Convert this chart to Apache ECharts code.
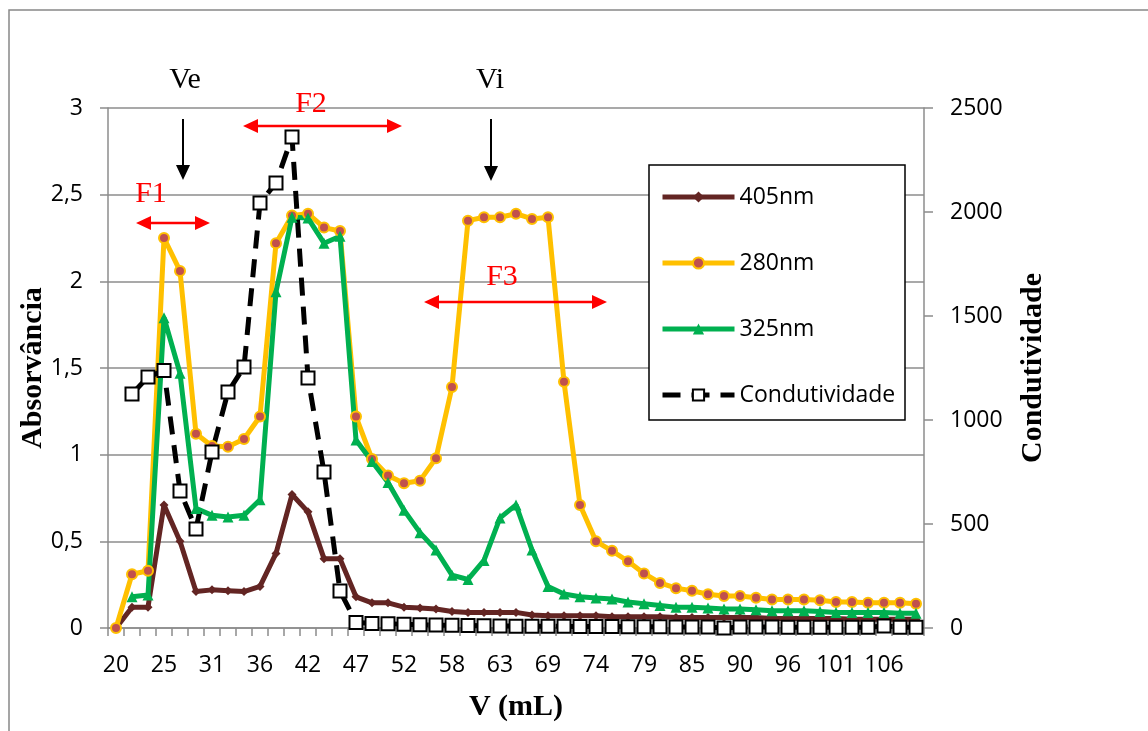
<!DOCTYPE html>
<html>
<head>
<meta charset="utf-8">
<script src="https://cdn.jsdelivr.net/npm/echarts@6/dist/echarts.min.js"></script>
<style>
  html, body { margin: 0; padding: 0; background: #fff; }
  #chart { width: 1148px; height: 731px; }
</style>
</head>
<body>
<div id="chart"></div>
<script>
// V (mL) – one entry per reading, every third one is labelled
const volumes = [20, 22, 24, 25, 27, 29, 31, 33, 34, 36, 38, 40, 42, 43, 45, 47, 49, 50,
  52, 54, 56, 58, 59, 61, 63, 65, 67, 69, 70, 72, 74, 76, 78, 79, 81, 83, 85, 87, 88,
  90, 92, 94, 96, 97, 99, 101, 103, 104, 106, 108, 110]

const abs405 = [0, 0.12, 0.12, 0.71, 0.5, 0.21, 0.22, 0.215, 0.21, 0.24, 0.43, 0.77, 0.67,
  0.4, 0.4, 0.18, 0.145, 0.145, 0.12, 0.115, 0.11, 0.095, 0.09, 0.09, 0.09, 0.09, 0.075,
  0.07, 0.07, 0.07, 0.07, 0.065, 0.065, 0.065, 0.065, 0.06, 0.06, 0.06, 0.06, 0.06, 0.06,
  0.055, 0.055, 0.055, 0.055, 0.055, 0.05, 0.05, 0.05, 0.05, 0.05]

const abs280 = [0, 0.31, 0.33, 2.25, 2.06, 1.12, 1.05, 1.045, 1.09, 1.22, 2.22, 2.38, 2.39,
  2.31, 2.29, 1.22, 0.975, 0.88, 0.835, 0.85, 0.98, 1.39, 2.35, 2.37, 2.37, 2.39, 2.36,
  2.37, 1.42, 0.71, 0.5, 0.445, 0.385, 0.315, 0.26, 0.23, 0.215, 0.195, 0.185, 0.185,
  0.175, 0.165, 0.165, 0.165, 0.16, 0.15, 0.15, 0.145, 0.145, 0.145, 0.14]

const abs325 = [null, 0.18, 0.19, 1.79, 1.47, 0.69, 0.65, 0.64, 0.65, 0.74, 1.94, 2.37,
  2.365, 2.22, 2.26, 1.085, 0.96, 0.84, 0.68, 0.55, 0.45, 0.305, 0.28, 0.39, 0.635, 0.71,
  0.45, 0.24, 0.196, 0.18, 0.173, 0.167, 0.15, 0.14, 0.13, 0.12, 0.12, 0.115, 0.11, 0.11,
  0.105, 0.1, 0.1, 0.1, 0.095, 0.09, 0.09, 0.09, 0.09, 0.085, 0.085]

const condutividade = [null, 1125, 1207, 1238, 659, 476, 846, 1135, 1255, 2043, 2140, 2361,
  1202, 750, 178, 27, 22, 20, 18, 16, 14, 13, 12, 11, 10, 9, 9, 8, 8, 7, 7, 7, 6, 6, 6,
  5, 5, 5, 0, 5, 5, 5, 4, 4, 4, 4, 4, 4, 10, 4, 4]

const labelFont = 'Open Sans, sans-serif'
const serif = 'Liberation Serif, Times New Roman, serif'
const gray = '#8c8c8c'

const arrowHead = (x, y, dir, color) => {
  // dir: 'down' | 'left' | 'right'
  const L = 15, W = 7
  let pts
  if (dir === 'down') pts = [[x - W, y - L], [x + W, y - L], [x, y]]
  else if (dir === 'left') pts = [[x, y], [x + L, y - W], [x + L, y + W]]
  else pts = [[x, y], [x - L, y - W], [x - L, y + W]]
  return { type: 'polygon', shape: { points: pts }, style: { fill: color }, z: 10 }
}

const downArrow = (x, y1, y2) => [
  { type: 'line', shape: { x1: x, y1: y1, x2: x, y2: y2 - 10 }, style: { stroke: '#000', lineWidth: 2 }, z: 10 },
  arrowHead(x, y2, 'down', '#000'),
]

const doubleArrow = (x1, x2, y) => [
  { type: 'line', shape: { x1: x1 + 8, y1: y, x2: x2 - 8, y2: y }, style: { stroke: '#ff0000', lineWidth: 2.5 }, z: 10 },
  arrowHead(x1, y, 'left', '#ff0000'),
  arrowHead(x2, y, 'right', '#ff0000'),
]

const txt = (x, y, text, color) => ({
  type: 'text', x: x, y: y, z: 10,
  style: { text: text, fill: color, font: '30px ' + serif, align: 'center', verticalAlign: 'middle' },
})

const chart = echarts.init(document.getElementById('chart'), null, { renderer: 'canvas' })

chart.setOption({
  animation: false,
  backgroundColor: '#fff',
  grid: { left: 108, right: 224, top: 108, bottom: 103 },
  legend: {
    orient: 'vertical',
    left: 660,
    top: 185,
    padding: 0,
    itemGap: 42,
    itemWidth: 72,
    itemHeight: 14,
    textStyle: { fontFamily: labelFont, fontSize: 23, color: '#000', lineHeight: 24 },
    lineStyle: { width: 5 },
    data: ['405nm', '280nm', '325nm', 'Condutividade'],
    z: 5,
  },
  xAxis: {
    type: 'category',
    data: volumes,
    boundaryGap: true,
    name: 'V (mL)',
    nameLocation: 'middle',
    nameGap: 64,
    nameMoveOverlap: false,
    nameTextStyle: { fontFamily: serif, fontWeight: 'bold', fontSize: 30, color: '#000' },
    axisLine: { lineStyle: { color: gray, width: 1.5 } },
    axisTick: { show: true, interval: 0, length: 8, lineStyle: { color: gray, width: 1.5 } },
    axisLabel: { interval: 2, margin: 26, fontFamily: labelFont, fontSize: 23, color: '#000' },
    splitLine: { show: false },
  },
  yAxis: [
    {
      type: 'value',
      min: 0,
      max: 3,
      interval: 0.5,
      position: 'left',
      name: 'Absorvância',
      nameLocation: 'middle',
      nameRotate: 90,
      nameGap: 60,
      nameMoveOverlap: false,
      nameTextStyle: { fontFamily: serif, fontWeight: 'bold', fontSize: 30, color: '#000' },
      axisLine: { show: true, lineStyle: { color: gray, width: 1.5 } },
      axisTick: { show: true, length: 8, lineStyle: { color: gray, width: 1.5 } },
      axisLabel: {
        margin: 25, fontFamily: labelFont, fontSize: 23, color: '#000',
        formatter: (v) => String(v).replace('.', ','),
      },
      splitLine: { show: true, lineStyle: { color: gray, width: 1.5 } },
    },
    {
      type: 'value',
      min: 0,
      max: 2500,
      interval: 500,
      position: 'right',
      name: 'Condutividade',
      nameLocation: 'middle',
      nameRotate: 90,
      nameGap: 94,
      nameMoveOverlap: false,
      nameTextStyle: { fontFamily: serif, fontWeight: 'bold', fontSize: 30, color: '#000' },
      axisLine: { show: true, lineStyle: { color: gray, width: 1.5 } },
      axisTick: { show: true, length: 9, lineStyle: { color: gray, width: 1.5 } },
      axisLabel: {
        margin: 26, fontFamily: labelFont, fontSize: 23, color: '#000',
        formatter: (v) => String(v),
      },
      splitLine: { show: false },
    },
  ],
  series: [
    {
      name: '405nm',
      type: 'line',
      data: abs405,
      showAllSymbol: true,
      symbol: 'diamond',
      symbolSize: 9,
      lineStyle: { color: '#632523', width: 5 },
      itemStyle: { color: '#632523' },
    },
    {
      name: '280nm',
      type: 'line',
      data: abs280,
      showAllSymbol: true,
      symbol: 'circle',
      symbolSize: 10,
      lineStyle: { color: '#FFC000', width: 5 },
      itemStyle: { color: '#C0504D', borderColor: '#FFC000', borderWidth: 2 },
    },
    {
      name: '325nm',
      type: 'line',
      data: abs325,
      showAllSymbol: true,
      symbol: 'triangle',
      symbolSize: 11,
      lineStyle: { color: '#00B050', width: 5 },
      itemStyle: { color: '#00B050' },
    },
    {
      name: 'Condutividade',
      type: 'line',
      yAxisIndex: 1,
      data: condutividade,
      showAllSymbol: true,
      symbol: 'rect',
      symbolSize: 13,
      lineStyle: { color: '#000', width: 5, type: [18, 11] },
      itemStyle: { color: '#fff', borderColor: '#000', borderWidth: 2 },
    },
  ],
  graphic: [
    // chart area border
    { type: 'rect', shape: { x: 9, y: 10, width: 1150, height: 730 }, style: { fill: 'none', stroke: '#888', lineWidth: 1.5 }, z: 0 },
    // legend box
    { type: 'rect', shape: { x: 649, y: 165, width: 256, height: 255 }, style: { fill: '#fff', stroke: '#000', lineWidth: 1.5 }, z: 1 },
    txt(185, 80, 'Ve', '#000'),
    txt(490, 80, 'Vi', '#000'),
    ...downArrow(183, 119, 180),
    ...downArrow(491, 119, 181),
    txt(151, 194, 'F1', '#ff0000'),
    ...doubleArrow(136, 210, 223),
    txt(311, 104, 'F2', '#ff0000'),
    ...doubleArrow(243, 402, 126),
    txt(502, 277, 'F3', '#ff0000'),
    ...doubleArrow(424, 607, 302),
  ],
})
</script>
</body>
</html>
